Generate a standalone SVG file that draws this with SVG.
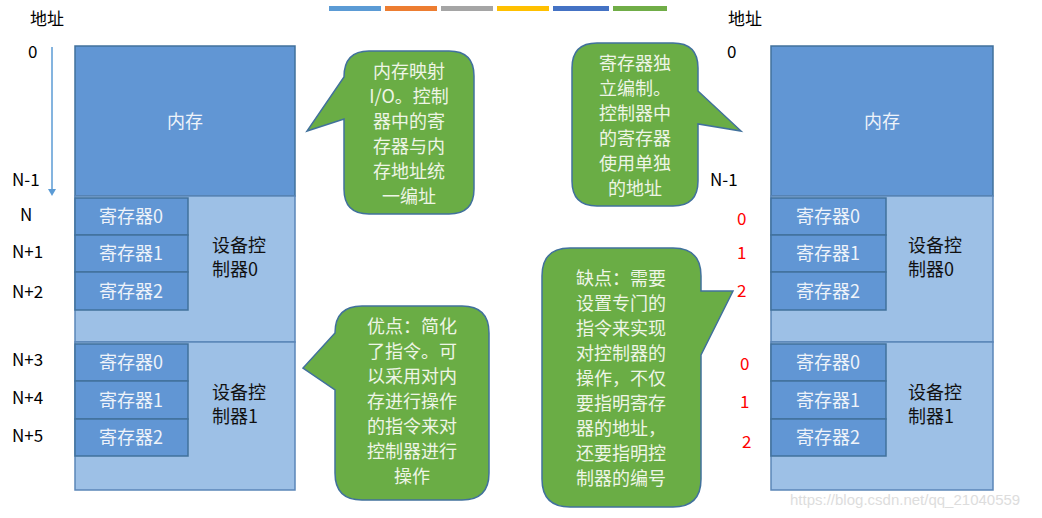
<svg xmlns="http://www.w3.org/2000/svg" width="1042" height="518" viewBox="0 0 1042 518">
<style>
text{font-family:"Noto Sans CJK SC","Liberation Sans",sans-serif;}
.lab{font-size:17px;fill:#000}
.red{font-size:17px;fill:#ff0000}
.mem{fill:#6196d4;stroke:#41719c;stroke-width:1.5}
.ctl{fill:#9dc0e6;stroke:#5b86b8;stroke-width:1.5}
.reg{fill:#6196d4;stroke:#41719c;stroke-width:1.5}
.wt{font-size:18px;fill:#eef3fa;text-anchor:middle}
.bk{font-size:18px;fill:#111;}
.co{fill:#6aad45;stroke:#41719c;stroke-width:1.5}
.ct{font-size:18px;fill:#eef5e6;text-anchor:middle}
</style>
<rect width="1042" height="518" fill="#fff"/>
<g id="legend">
<rect x="329" y="6" width="52" height="5" fill="#5b9bd5"/>
<rect x="385" y="6" width="52" height="5" fill="#ed7d31"/>
<rect x="441" y="6" width="52" height="5" fill="#a5a5a5"/>
<rect x="497" y="6" width="52" height="5" fill="#ffc000"/>
<rect x="553" y="6" width="56" height="5" fill="#4472c4"/>
<rect x="613" y="6" width="54" height="5" fill="#70ad47"/>
</g>
<g id="axis-left">
<text class="lab" x="30" y="25">地址</text>
<line x1="52" y1="47" x2="52" y2="190" stroke="#5b9bd5" stroke-width="1.5"/>
<path d="M48,189 L56,189 L52,196 Z" fill="#5b9bd5"/>
<text class="lab" x="28" y="58">0</text>
<text class="lab" x="12" y="186">N-1</text>
<text class="lab" x="20" y="221">N</text>
<text class="lab" x="12" y="258">N+1</text>
<text class="lab" x="12" y="298">N+2</text>
<text class="lab" x="12" y="366">N+3</text>
<text class="lab" x="12" y="404">N+4</text>
<text class="lab" x="12" y="442">N+5</text>
</g>
<g id="axis-right">
<text class="lab" x="728" y="25">地址</text>
<text class="lab" x="727" y="58">0</text>
<text class="lab" x="710" y="186">N-1</text>
<text class="red" x="737" y="225">0</text>
<text class="red" x="737" y="259">1</text>
<text class="red" x="737" y="297">2</text>
<text class="red" x="740" y="370">0</text>
<text class="red" x="740" y="408">1</text>
<text class="red" x="742" y="448">2</text>
</g>
<g id="left-stack">
<rect class="mem" x="75" y="46" width="220" height="150"/>
<text class="wt" x="185" y="128">内存</text>
<rect class="ctl" x="75" y="196" width="220" height="146"/>
<rect class="reg" x="75" y="198" width="113" height="37"/><text class="wt" x="131" y="223">寄存器0</text>
<rect class="reg" x="75" y="235" width="113" height="37"/><text class="wt" x="131" y="260">寄存器1</text>
<rect class="reg" x="75" y="272" width="113" height="38"/><text class="wt" x="131" y="298">寄存器2</text>
<text class="bk" x="212" y="252">设备控</text><text class="bk" x="212" y="276">制器0</text>
<rect class="ctl" x="75" y="342" width="220" height="148"/>
<rect class="reg" x="75" y="344" width="113" height="37"/><text class="wt" x="131" y="369">寄存器0</text>
<rect class="reg" x="75" y="381" width="113" height="38"/><text class="wt" x="131" y="407">寄存器1</text>
<rect class="reg" x="75" y="419" width="113" height="37"/><text class="wt" x="131" y="444">寄存器2</text>
<text class="bk" x="212" y="399">设备控</text><text class="bk" x="212" y="423">制器1</text>
</g>
<g id="right-stack">
<rect class="mem" x="771" y="46" width="222" height="150"/>
<text class="wt" x="882" y="128">内存</text>
<rect class="ctl" x="771" y="196" width="222" height="146"/>
<rect class="reg" x="771" y="198" width="115" height="37"/><text class="wt" x="828" y="223">寄存器0</text>
<rect class="reg" x="771" y="235" width="115" height="37"/><text class="wt" x="828" y="260">寄存器1</text>
<rect class="reg" x="771" y="272" width="115" height="38"/><text class="wt" x="828" y="298">寄存器2</text>
<text class="bk" x="908" y="252">设备控</text><text class="bk" x="908" y="276">制器0</text>
<rect class="ctl" x="771" y="342" width="222" height="148"/>
<rect class="reg" x="771" y="344" width="115" height="37"/><text class="wt" x="828" y="369">寄存器0</text>
<rect class="reg" x="771" y="381" width="115" height="38"/><text class="wt" x="828" y="407">寄存器1</text>
<rect class="reg" x="771" y="419" width="115" height="37"/><text class="wt" x="828" y="444">寄存器2</text>
<text class="bk" x="908" y="399">设备控</text><text class="bk" x="908" y="423">制器1</text>
</g>
<g id="callout1">
<path class="co" d="M369,51 H449 Q474,51 474,76 V189 Q474,214 449,214 H369 Q344,214 344,189 V119 L307,131 L344,77 Q344,51 369,51 Z"/>
<text class="ct" x="409" y="78">内存映射</text>
<text class="ct" x="409" y="103">I/O。控制</text>
<text class="ct" x="409" y="128">器中的寄</text>
<text class="ct" x="409" y="153">存器与内</text>
<text class="ct" x="409" y="178">存地址统</text>
<text class="ct" x="409" y="203">一编址</text>
</g>
<g id="callout2">
<path class="co" d="M362,306 H462 Q489,306 489,333 V473 Q489,500 462,500 H362 Q335,500 335,473 V390 L303,368 L335,333 Q335,306 362,306 Z"/>
<text class="ct" x="412" y="333">优点：简化</text>
<text class="ct" x="412" y="358">了指令。可</text>
<text class="ct" x="412" y="383">以采用对内</text>
<text class="ct" x="412" y="408">存进行操作</text>
<text class="ct" x="412" y="433">的指令来对</text>
<text class="ct" x="412" y="458">控制器进行</text>
<text class="ct" x="412" y="483">操作</text>
</g>
<g id="callout3">
<path class="co" d="M597,43 H673 Q698,43 698,68 V91 L741,131 L698,124 V181 Q698,206 673,206 H597 Q572,206 572,181 V68 Q572,43 597,43 Z"/>
<text class="ct" x="635" y="70">寄存器独</text>
<text class="ct" x="635" y="95">立编制。</text>
<text class="ct" x="635" y="120">控制器中</text>
<text class="ct" x="635" y="145">的寄存器</text>
<text class="ct" x="635" y="170">使用单独</text>
<text class="ct" x="635" y="195">的地址</text>
</g>
<g id="callout4">
<path class="co" d="M570,248 H673 Q701,248 701,276 V291 L733,291 L701,355 V479 Q701,507 673,507 H570 Q542,507 542,479 V276 Q542,248 570,248 Z"/>
<text class="ct" x="621" y="285">缺点：需要</text>
<text class="ct" x="621" y="310">设置专门的</text>
<text class="ct" x="621" y="335">指令来实现</text>
<text class="ct" x="621" y="360">对控制器的</text>
<text class="ct" x="621" y="385">操作，不仅</text>
<text class="ct" x="621" y="410">要指明寄存</text>
<text class="ct" x="621" y="435">器的地址，</text>
<text class="ct" x="621" y="460">还要指明控</text>
<text class="ct" x="621" y="485">制器的编号</text>
</g>
<g id="connectors"></g>
<text x="790" y="505" font-size="15" fill="#dddddd" style="font-family:'Liberation Sans',sans-serif">https://blog.csdn.net/qq_21040559</text>
</svg>
